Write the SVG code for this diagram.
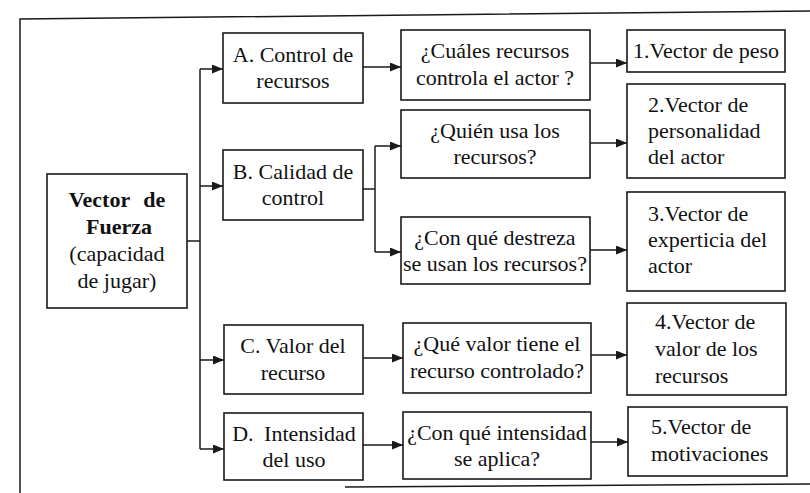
<svg xmlns="http://www.w3.org/2000/svg" width="810" height="493" viewBox="0 0 810 493">
  <style>
    .box { fill: #fff; stroke: #1a1a1a; stroke-width: 1.6; }
    .frame { fill: none; stroke: #1a1a1a; stroke-width: 1.5; }
    .wire { fill: none; stroke: #1a1a1a; stroke-width: 1.5; }
    .t { font-family: "Liberation Serif", "Times New Roman", serif; font-size: 22px; fill: #111; }
    .c { text-anchor: middle; }
    .b { font-weight: bold; }
  </style>
  <defs>
    <marker id="arrow" markerUnits="userSpaceOnUse" markerWidth="12" markerHeight="10" refX="11" refY="4.5" orient="auto">
      <path d="M0,0 L11,4.5 L0,9 z" fill="#1a1a1a"/>
    </marker>
  </defs>
  <rect width="810" height="493" fill="#fff"/>

  <!-- page frame -->
  <g id="frame">
    <path class="frame" d="M20,493 L20,19 L810,11"/>
    <path class="frame" d="M345,487 L810,484"/>
  </g>

  <!-- connectors -->
  <g id="connectors">
    <path class="wire" d="M187,241 H200"/>
    <path class="wire" d="M200,69 V449"/>
    <path class="wire" d="M200,69 H223" marker-end="url(#arrow)"/>
    <path class="wire" d="M200,186 H223" marker-end="url(#arrow)"/>
    <path class="wire" d="M200,360 H224" marker-end="url(#arrow)"/>
    <path class="wire" d="M200,449 H224" marker-end="url(#arrow)"/>
    <path class="wire" d="M363,67 H401" marker-end="url(#arrow)"/>
    <path class="wire" d="M363,189 H375"/>
    <path class="wire" d="M375,146 V252"/>
    <path class="wire" d="M375,146 H401" marker-end="url(#arrow)"/>
    <path class="wire" d="M375,252 H401" marker-end="url(#arrow)"/>
    <path class="wire" d="M363,358 H403" marker-end="url(#arrow)"/>
    <path class="wire" d="M363,445 H403" marker-end="url(#arrow)"/>
    <path class="wire" d="M590,63 H627" marker-end="url(#arrow)"/>
    <path class="wire" d="M590,143 H627" marker-end="url(#arrow)"/>
    <path class="wire" d="M590,250 H627" marker-end="url(#arrow)"/>
    <path class="wire" d="M591,355 H627" marker-end="url(#arrow)"/>
    <path class="wire" d="M591,442 H628" marker-end="url(#arrow)"/>
  </g>

  <!-- root node -->
  <g id="fuerza">
    <rect class="box" x="47" y="174" width="140" height="134"/>
    <text class="t c b" x="117" y="207" word-spacing="8">Vector de</text>
    <text class="t c b" x="119" y="234">Fuerza</text>
    <text class="t c" x="117" y="261">(capacidad</text>
    <text class="t c" x="117" y="288">de jugar)</text>
  </g>

  <!-- dimensions -->
  <g id="a-control">
    <rect class="box" x="223" y="33" width="140" height="70"/>
    <text class="t c" x="293" y="62">A. Control de</text>
    <text class="t c" x="293" y="88">recursos</text>
  </g>
  <g id="b-calidad">
    <rect class="box" x="223" y="150" width="140" height="70"/>
    <text class="t c" x="293" y="179">B. Calidad de</text>
    <text class="t c" x="293" y="205">control</text>
  </g>
  <g id="c-valor">
    <rect class="box" x="224" y="325" width="139" height="69"/>
    <text class="t c" x="293" y="353">C. Valor del</text>
    <text class="t c" x="293" y="380">recurso</text>
  </g>
  <g id="d-intensidad">
    <rect class="box" x="224" y="413" width="139" height="67"/>
    <text class="t c" x="294" y="441" word-spacing="5">D. Intensidad</text>
    <text class="t c" x="294" y="467">del uso</text>
  </g>

  <!-- questions -->
  <g id="q-cuales">
    <rect class="box" x="401" y="30" width="189" height="70"/>
    <text class="t c" x="495" y="58">¿Cuáles recursos</text>
    <text class="t c" x="495" y="85">controla el actor ?</text>
  </g>
  <g id="q-quien">
    <rect class="box" x="401" y="110" width="189" height="68"/>
    <text class="t c" x="495" y="138">¿Quién usa los</text>
    <text class="t c" x="495" y="164">recursos?</text>
  </g>
  <g id="q-destreza">
    <rect class="box" x="401" y="217" width="189" height="67"/>
    <text class="t c" x="495" y="245">¿Con qué destreza</text>
    <text class="t c" x="495" y="271">se usan los recursos?</text>
  </g>
  <g id="q-valor">
    <rect class="box" x="403" y="323" width="188" height="70"/>
    <text class="t c" x="497" y="351">¿Qué valor tiene el</text>
    <text class="t c" x="497" y="378">recurso controlado?</text>
  </g>
  <g id="q-intensidad">
    <rect class="box" x="403" y="412" width="188" height="67"/>
    <text class="t c" x="497" y="440">¿Con qué intensidad</text>
    <text class="t c" x="497" y="466">se aplica?</text>
  </g>

  <!-- resulting vectors -->
  <g id="v1-peso">
    <rect class="box" x="627" y="30" width="158" height="42"/>
    <text class="t c" x="706" y="58">1.Vector de peso</text>
  </g>
  <g id="v2-personalidad">
    <rect class="box" x="627" y="84" width="158" height="94"/>
    <text class="t" x="648" y="112">2.Vector de</text>
    <text class="t" x="648" y="138">personalidad</text>
    <text class="t" x="648" y="164">del actor</text>
  </g>
  <g id="v3-experticia">
    <rect class="box" x="627" y="192" width="158" height="99"/>
    <text class="t" x="648" y="221">3.Vector de</text>
    <text class="t" x="648" y="247">experticia del</text>
    <text class="t" x="648" y="273">actor</text>
  </g>
  <g id="v4-valor">
    <rect class="box" x="627" y="303" width="159" height="92"/>
    <text class="t" x="655" y="329">4.Vector de</text>
    <text class="t" x="655" y="356">valor de los</text>
    <text class="t" x="655" y="383">recursos</text>
  </g>
  <g id="v5-motivaciones">
    <rect class="box" x="628" y="407" width="159" height="69"/>
    <text class="t" x="651" y="434">5.Vector de</text>
    <text class="t" x="651" y="461">motivaciones</text>
  </g>
</svg>
